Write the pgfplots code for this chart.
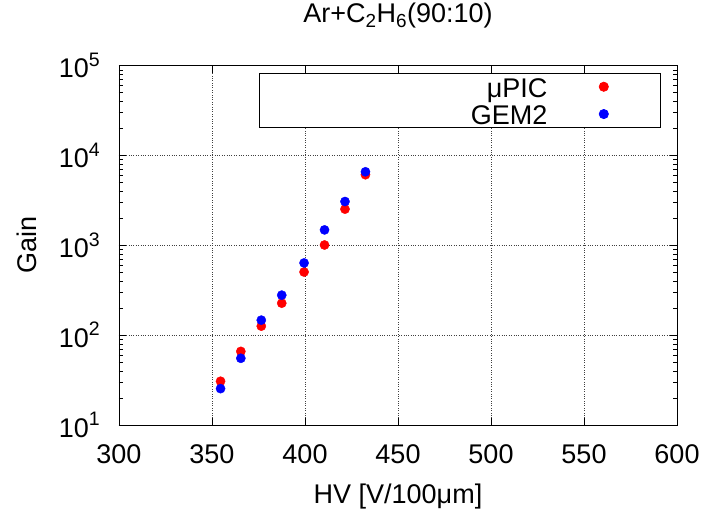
\documentclass[border=0pt]{standalone}
\usepackage{fontspec}
\setmainfont{Liberation Sans}
\usepackage{pgfplots}
\pgfplotsset{compat=1.18}
\newcommand\sups[1]{\raisebox{0.42em}{\fontsize{19.5bp}{19.5bp}\selectfont #1}}
\begin{document}
\fontsize{27bp}{31bp}\selectfont
\begin{tikzpicture}
\path[use as bounding box] (-119bp,-90bp) rectangle (589bp,425bp);
\begin{axis}[
  at={(0,0)}, anchor=south west,
  scale only axis, width=558bp, height=359.3bp,
  xmin=300, xmax=600, ymode=log, ymin=10, ymax=100000,
  xtick={300,350,400,450,500,550,600},
  ytick={10,100,1000,10000,100000},
  yticklabels={10\sups{1},10\sups{2},10\sups{3},10\sups{4},10\sups{5}},
  xticklabel style={anchor=base, inner sep=0pt, yshift=-38bp},
  yticklabel style={anchor=base east, inner sep=0pt, xshift=-19bp, yshift=-12bp},
  /pgf/number format/assume math mode=true,
  /pgf/number format/1000 sep={},
  grid=major,
  major grid style={black!75, dotted, line width=0.8pt},
  tick align=inside, tick pos=both,
  major tick length=7bp, minor tick length=4bp,
  every tick/.style={black, line width=0.6pt},
  axis line style={line width=0.8pt},
  title={Ar+C\textsubscript{2}H\textsubscript{6}(90:10)},
  xlabel={HV [V/100μm]},
  ylabel={Gain},
  every axis title/.style={at={(rel axis cs:0.5,1)}, anchor=base, yshift=43bp},
  every axis x label/.style={at={(rel axis cs:0.5,0)}, anchor=base, yshift=-78bp},
  every axis y label/.style={at={([xshift=-82bp]rel axis cs:0,0.5)}, anchor=base, rotate=90},
  legend plot pos=right,
  legend cell align=right,
  legend style={at={(0.2509,0.9805)}, anchor=north west, draw=black, line width=0.8pt,
    inner sep=0pt, row sep=0pt, column sep=0pt,
    nodes={inner sep=0pt, text width=288bp, align=right, text height=24bp, text depth=3.3bp}},
  legend image code/.code={\path (0bp,0bp) (112bp,0bp);
    \draw[#1] plot coordinates {(56bp,0bp)};},
]
\addplot[only marks, mark=*, mark size=4.6bp, color=red, mark options={draw=none}] coordinates {
(354.6,30.7) (365.5,66) (376.5,126) (387.5,227) (399.5,505) (410.5,1009) (421.5,2530) (432.5,6110)
};
\addlegendentry{μPIC}
\addplot[only marks, mark=*, mark size=4.6bp, color=blue, mark options={draw=none}] coordinates {
(354.6,25.4) (365.5,55.3) (376.5,147) (387.5,279) (399.5,637) (410.5,1486) (421.5,3076) (432.5,6590)
};
\addlegendentry{GEM2}
\end{axis}
\end{tikzpicture}
\end{document}
